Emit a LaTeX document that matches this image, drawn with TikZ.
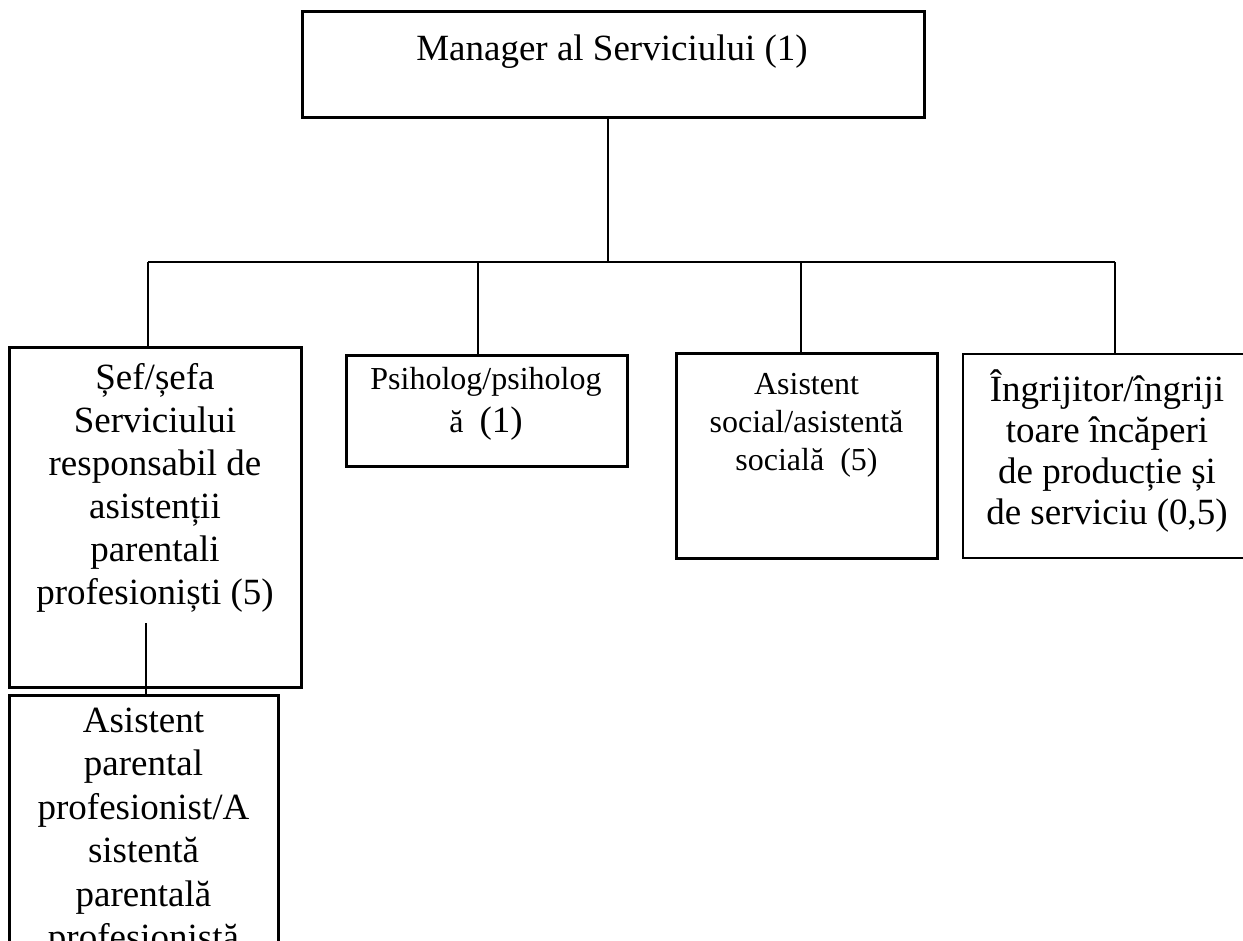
\documentclass[tikz,border=0pt]{standalone}
\usepackage{fontspec}
\setmainfont{Liberation Serif}
\begin{document}
\begin{tikzpicture}[x=1pt,y=-1pt,
  box/.style={draw, line width=3pt, inner sep=0pt, rectangle},
  thinbox/.style={draw, line width=1.8pt, inner sep=0pt, rectangle},
  big/.style={font=\fontsize{37}{43}\selectfont, align=center, inner sep=0pt, anchor=north, execute at begin node=\strut},
  small/.style={font=\fontsize{32}{38}\selectfont, align=center, inner sep=0pt, anchor=north, execute at begin node=\strut},
  conn/.style={line width=1.3pt}]
\clip (0,0) rectangle (1243,941);
% boxes
\node[box, minimum width=622pt, minimum height=106pt] (man) at (613,65) {};
\node[box, minimum width=292pt, minimum height=339pt] (sef) at (155,517.5) {};
\node[box, minimum width=281pt, minimum height=110pt] (psi) at (486.5,411) {};
\node[box, minimum width=261pt, minimum height=204pt] (as) at (806.5,456) {};
\node[thinbox, minimum width=288pt, minimum height=204pt] (ing) at (1107,456) {};
\node[box, minimum width=269pt, minimum height=305pt] (par) at (143.5,847.5) {};
% texts
\node[big] (manT) at (612,29.9) {Manager al Serviciului (1)};
\node[big] (sefT) at (155,363) {Șef/șefa\\Serviciului\\responsabil de\\asistenții\\parentali\\profesioniști (5)};
\node[big, font=\fontsize{32}{43}\selectfont] (psiT) at (486,367) {Psiholog/psiholog\\ă\ \ {\fontsize{37}{43}\selectfont(1)}};
\node[small] (asT) at (806.5,373.4) {Asistent\\social/asistentă\\socială\ \ (5)};
\node[big, font=\fontsize{37}{41}\selectfont] (ingT) at (1107,370) {Îngrijitor/îngriji\\toare încăperi\\de producție și\\de serviciu (0,5)};
\node[big, font=\fontsize{37}{43.5}\selectfont] (parT) at (143.5,707.5) {Asistent\\parental\\profesionist/A\\sistentă\\parentală\\profesionistă};
% connectors
\coordinate (j) at (608,262);
\coordinate (b1) at (148,262);
\coordinate (b2) at (478,262);
\coordinate (b3) at (801,262);
\coordinate (b4) at (1115,262);
\draw[conn] (j |- man.south) -- (j);
\draw[conn] (b1) -- (b4);
\draw[conn] (b1) -- (b1 |- sef.north);
\draw[conn] (b2) -- (b2 |- psi.north);
\draw[conn] (b3) -- (b3 |- as.north);
\draw[conn] (b4) -- (b4 |- ing.north);
\coordinate (sefin) at (146,623);
\draw[conn] (sefin) -- (sefin |- par.north);
\end{tikzpicture}
\end{document}
